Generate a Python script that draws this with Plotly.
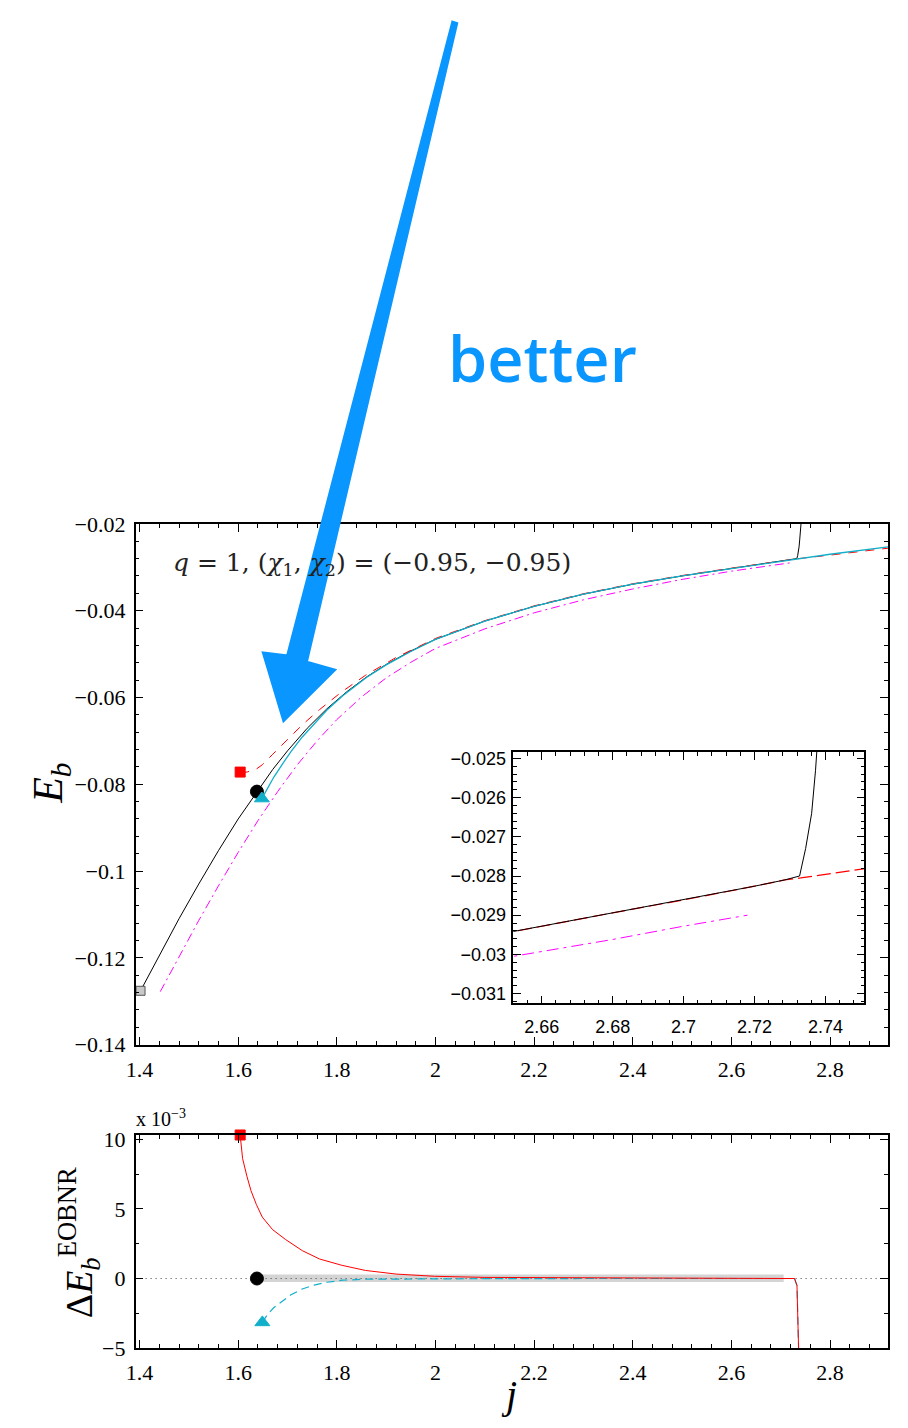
import plotly.graph_objects as go

W, H = 908, 1428

# ---- binding energy curves E_b(j) ----
# numerical relativity (black)
nr_j = [1.402, 1.44, 1.48, 1.52, 1.56, 1.60, 1.638, 1.67, 1.70, 1.74, 1.78, 1.82,
        1.86, 1.90, 1.95, 2.0, 2.1, 2.2, 2.3, 2.4, 2.5, 2.6, 2.652, 2.68, 2.70,
        2.72, 2.7285, 2.7327, 2.7344, 2.7361, 2.7372, 2.7385, 2.740, 2.7415]
nr_E = [-0.1276, -0.1194, -0.1110, -0.1030, -0.0953, -0.0880, -0.0817, -0.0766,
        -0.0723, -0.0671, -0.0626, -0.0587, -0.0553, -0.0524, -0.0493, -0.0466,
        -0.0424, -0.0390, -0.0362, -0.0339, -0.0320, -0.0303, -0.02942, -0.02894,
        -0.02861, -0.02826, -0.0281, -0.0280, -0.0273, -0.0264, -0.0253, -0.0237,
        -0.0215, -0.0195]

# EOBNR model (cyan)
eob_j = [1.648, 1.672, 1.69, 1.707, 1.73, 1.754, 1.78, 1.812, 1.86, 1.90, 1.95, 2.0,
         2.1, 2.2, 2.3, 2.4, 2.5, 2.6, 2.7, 2.8, 2.918]
eob_E = [-0.0833, -0.0784, -0.0753, -0.0725, -0.0691, -0.0660, -0.0629, -0.0596,
         -0.0554, -0.0525, -0.0494, -0.0466, -0.0424, -0.0390, -0.0362, -0.0339,
         -0.0320, -0.0303, -0.0286, -0.0270, -0.0253]

# EOB model (red dashed)
eobr_j = [1.604, 1.618, 1.638, 1.649, 1.67, 1.696, 1.73, 1.765, 1.81, 1.858, 1.92,
          2.0, 2.1, 2.2, 2.3, 2.4, 2.5, 2.6, 2.652, 2.68, 2.70, 2.72, 2.7285, 2.733,
          2.751, 2.8, 2.918]
eobr_E = [-0.0772, -0.0772, -0.0764, -0.0755, -0.0731, -0.0701, -0.0663, -0.0628,
          -0.0587, -0.0549, -0.0508, -0.0464, -0.0423, -0.0389, -0.0361, -0.0338,
          -0.0319, -0.0302, -0.02942, -0.02894, -0.02861, -0.02826, -0.0281,
          -0.02805, -0.0278, -0.0272, -0.0256]

# PN approximant (magenta dash-dot)
pn_j = [1.442, 1.48, 1.52, 1.56, 1.60, 1.64, 1.68, 1.72, 1.76, 1.80, 1.85, 1.90,
        1.95, 2.0, 2.1, 2.2, 2.3, 2.4, 2.5, 2.6, 2.652, 2.68, 2.70, 2.718]
pn_E = [-0.1278, -0.1198, -0.1114, -0.1034, -0.0957, -0.0884, -0.0817, -0.0755,
        -0.0700, -0.0651, -0.0599, -0.0555, -0.0519, -0.0487, -0.0442, -0.0405,
        -0.0375, -0.0350, -0.0328, -0.0309, -0.03005, -0.02962, -0.02928, -0.02900]

# end-point markers
start_sq = (1.402, -0.1276)
red_sq = (1.604, -0.0772)
nr_dot = (1.638, -0.0817)
eob_tri = (1.648, -0.0833)

# ---- differences Delta E_b (units of 1e-3) ----
dr_j = [1.604, 1.609, 1.618, 1.626, 1.637, 1.649, 1.67, 1.696, 1.73, 1.765, 1.81,
        1.858, 1.92, 1.998, 2.1, 2.3, 2.5, 2.7, 2.728, 2.733, 2.735, 2.737]
dr_v = [10.3, 8.6, 7.3, 6.3, 5.3, 4.4, 3.5, 2.8, 2.0, 1.4, 0.95, 0.58, 0.32, 0.16,
        0.08, 0.04, 0.02, 0.0, 0.0, -0.5, -3.0, -6.0]

dc_j = [1.649, 1.66, 1.672, 1.69, 1.707, 1.73, 1.754, 1.78, 1.812, 1.86, 1.95, 2.1,
        2.3, 2.5, 2.7, 2.728, 2.733, 2.735, 2.737]
dc_v = [-3.15, -2.55, -2.1, -1.6, -1.17, -0.75, -0.47, -0.27, -0.12, -0.05, -0.02,
        -0.01, 0.0, 0.0, 0.0, 0.0, -0.5, -3.0, -6.0]

band_j = [1.638, 2.706]
band_hi = [0.28, 0.28]
band_lo = [-0.25, -0.25]

zero_j = [1.392, 2.918]
zero_v = [0.0, 0.0]

CYAN = '#12AFCB'
BLUE = '#0A96FF'


def fx(p):
    """pixel column -> paper fraction"""
    return p / W


def fy(p):
    """pixel row -> paper fraction"""
    return 1 - p / H


fig = go.Figure()

# main panel
fig.add_trace(go.Scatter(x=pn_j, y=pn_E, mode='lines', xaxis='x', yaxis='y',
                         line=dict(color='#FF00FF', width=1, dash='9px,4px,2px,4px')))
fig.add_trace(go.Scatter(x=nr_j, y=nr_E, mode='lines', xaxis='x', yaxis='y',
                         line=dict(color='black', width=1)))
fig.add_trace(go.Scatter(x=eobr_j, y=eobr_E, mode='lines', xaxis='x', yaxis='y',
                         line=dict(color='red', width=1, dash='9px,8px')))
fig.add_trace(go.Scatter(x=eob_j, y=eob_E, mode='lines', xaxis='x', yaxis='y',
                         line=dict(color=CYAN, width=1.3)))
for (px_, py_), sym, col, sz, lc in [
        (start_sq, 'square', '#C8C8C8', 9, '#555555'),
        (red_sq, 'square', 'red', 10, 'red'),
        (nr_dot, 'circle', 'black', 13, 'black'),
        (eob_tri, 'triangle-up', CYAN, 13, CYAN)]:
    fig.add_trace(go.Scatter(x=[px_], y=[py_], mode='markers', xaxis='x', yaxis='y',
                             marker=dict(symbol=sym, color=col, size=sz,
                                         line=dict(color=lc, width=1))))

# inset
fig.add_trace(go.Scatter(x=pn_j, y=pn_E, mode='lines', xaxis='x2', yaxis='y2',
                         line=dict(color='#FF00FF', width=1, dash='12px,5px,3px,5px')))
fig.add_trace(go.Scatter(x=eobr_j, y=eobr_E, mode='lines', xaxis='x2', yaxis='y2',
                         line=dict(color='red', width=1.2, dash='14px,5px')))
fig.add_trace(go.Scatter(x=nr_j, y=nr_E, mode='lines', xaxis='x2', yaxis='y2',
                         line=dict(color='black', width=1)))

# difference panel
fig.add_trace(go.Scatter(x=band_j, y=band_hi, mode='lines', xaxis='x3', yaxis='y3',
                         line=dict(width=0)))
fig.add_trace(go.Scatter(x=band_j, y=band_lo, mode='lines', xaxis='x3', yaxis='y3',
                         line=dict(width=0), fill='tonexty', fillcolor='#D4D4D4'))
fig.add_trace(go.Scatter(x=zero_j, y=zero_v, mode='lines', xaxis='x3', yaxis='y3',
                         line=dict(color='#444444', width=1, dash='1px,4px')))
fig.add_trace(go.Scatter(x=dc_j, y=dc_v, mode='lines', xaxis='x3', yaxis='y3',
                         line=dict(color=CYAN, width=1.2, dash='8px,5px')))
fig.add_trace(go.Scatter(x=dr_j, y=dr_v, mode='lines', xaxis='x3', yaxis='y3',
                         line=dict(color='red', width=1)))
for (px_, py_), sym, col, sz in [
        ((dr_j[0], dr_v[0]), 'square', 'red', 10),
        ((nr_dot[0], 0.0), 'circle', 'black', 13),
        ((dc_j[0], dc_v[0]), 'triangle-up', CYAN, 13)]:
    fig.add_trace(go.Scatter(x=[px_], y=[py_], mode='markers', xaxis='x3', yaxis='y3',
                             cliponaxis=False,
                             marker=dict(symbol=sym, color=col, size=sz,
                                         line=dict(color=col, width=1))))

serif = dict(family='Liberation Serif', size=22, color='black')
sans = dict(family='Liberation Sans', size=18, color='black')


def ax(domain, rng, tickvals, minor_dt, font, anchor, standoff=6):
    return dict(domain=domain, range=rng, tickvals=tickvals, anchor=anchor,
                showline=True, linecolor='black', linewidth=1.5, mirror='allticks',
                ticks='inside', ticklen=8, tickwidth=1, tickcolor='black',
                showgrid=False, zeroline=False, tickfont=font,
                ticklabelstandoff=standoff,
                minor=dict(ticks='inside', ticklen=4, tickwidth=1, tickcolor='black',
                           dtick=minor_dt, tick0=tickvals[0], showgrid=False))


xt = [1.4, 1.6, 1.8, 2.0, 2.2, 2.4, 2.6, 2.8]
main_x = [fx(127), fx(888)]
fig.update_layout(
    width=W, height=H, margin=dict(l=0, r=0, t=0, b=0),
    paper_bgcolor='white', plot_bgcolor='white', showlegend=False,
    xaxis=ax(main_x, [1.392, 2.918], xt, 0.04, serif, 'y', 4),
    yaxis=ax([fy(1051), fy(521)], [-0.14, -0.02],
             [-0.14, -0.12, -0.10, -0.08, -0.06, -0.04, -0.02], 0.004, serif, 'x', 4),
    xaxis2=ax([fx(509), fx(864)], [2.652, 2.751], [2.66, 2.68, 2.70, 2.72, 2.74],
              0.004, sans, 'y2', 6),
    yaxis2=ax([fy(1009), fy(753)], [-0.03125, -0.02483],
              [-0.031, -0.030, -0.029, -0.028, -0.027, -0.026, -0.025], 0.0002,
              sans, 'x2', 2),
    xaxis3=ax(main_x, [1.392, 2.918], xt, 0.04, serif, 'y3', 4),
    yaxis3=ax([fy(1360), fy(1143)], [-5, 10.3], [-5, 0, 5, 10], 2.5, serif, 'x3', 4),
)

# hand-drawn arrow
arrow = [(448, 11), (451, 12), (299, 662), (327, 670), (277, 720), (257, 653), (281, 656)]
path = 'M ' + ' L '.join(f'{fx(a):.5f} {fy(b):.5f}' for a, b in arrow) + ' Z'
fig.add_shape(type='path', path=path, xref='paper', yref='paper', layer='above',
              fillcolor=BLUE, line=dict(color=BLUE, width=4))

annos = [
    dict(x=fx(441), y=fy(352), xanchor='left', yanchor='middle', text='better',
         font=dict(family='Open Sans', size=63, color=BLUE, weight=600)),
    dict(x=fx(163), y=fy(562), xanchor='left', yanchor='middle',
         text='<i>q</i> = 1, (<i>χ</i><sub>1</sub>, <i>χ</i><sub>2</sub>) = (−0.95, −0.95)',
         font=dict(family='DejaVu Serif', size=25, color='#222222')),
    dict(x=fx(42), y=fy(785), xanchor='center', yanchor='middle', textangle=-90,
         text='<i>E</i><sub><i>b</i></sub>',
         font=dict(family='Liberation Serif', size=42, color='black')),
    dict(x=fx(70), y=fy(1253), xanchor='center', yanchor='middle', textangle=-90,
         text='Δ<i>E</i><sub><i>b</i></sub><sup>EOBNR</sup>',
         font=dict(family='Liberation Serif', size=38, color='black')),
    dict(x=fx(505), y=fy(1407), xanchor='center', yanchor='middle',
         text='<i>j</i>', font=dict(family='Liberation Serif', size=40, color='black')),
    dict(x=fx(125), y=fy(1126), xanchor='left', yanchor='middle',
         text='x 10<sup>−3</sup>',
         font=dict(family='Liberation Serif', size=20, color='black')),
]
for a in annos:
    a.update(xref='paper', yref='paper', showarrow=False)
    fig.add_annotation(**a)

fig.write_html('out.html')
